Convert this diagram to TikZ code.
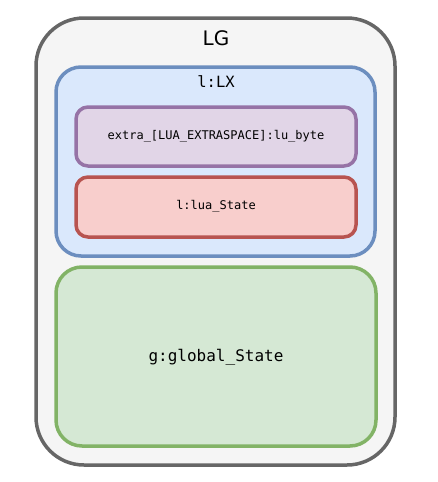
\documentclass[tikz,border=0pt]{standalone}
\usepackage{fontspec}
\setmainfont{DejaVu Sans}
\newfontfamily\monofont{DejaVu Sans Mono}
\definecolor{outerd}{HTML}{666666}
\definecolor{outerf}{HTML}{F5F5F5}
\definecolor{blued}{HTML}{6C8EBF}
\definecolor{bluef}{HTML}{DAE8FC}
\definecolor{purpd}{HTML}{9673A6}
\definecolor{purpf}{HTML}{E1D5E7}
\definecolor{redd}{HTML}{B85450}
\definecolor{redf}{HTML}{F8CECC}
\definecolor{greend}{HTML}{82B366}
\definecolor{greenf}{HTML}{D5E8D4}
\tikzset{
  box/.style={rectangle, line width=3.5pt, inner sep=0pt, outer sep=0pt},
  lbl/.style={inner sep=0pt, text=black}
}
\begin{document}
\begin{tikzpicture}[x=1pt,y=-1pt]
\useasboundingbox (0,0) rectangle (438,482);
\fill[white] (0,0) rectangle (438,482);
\node[box, draw=outerd, fill=outerf, minimum width=359pt, minimum height=447pt, rounded corners=48pt] (lg) at (215.5,241.5) {};
\node[lbl, font=\fontsize{20}{24}\selectfont] (lgt) at (216,38) {LG};
\node[box, draw=blued, fill=bluef, minimum width=319pt, minimum height=189pt, rounded corners=25pt] (lx) at (215.5,161.5) {};
\node[lbl, font=\monofont\fontsize{15.5}{18}\selectfont] (lxt) at (216,82) {l:LX};
\node[box, draw=purpd, fill=purpf, minimum width=280pt, minimum height=59pt, rounded corners=12pt] (ex) at (216,136.5) {};
\node[lbl, font=\monofont\fontsize{12}{14}\selectfont] (ext) at (216,136) {extra\_[LUA\_EXTRASPACE]:lu\_byte};
\node[box, draw=redd, fill=redf, minimum width=280pt, minimum height=60pt, rounded corners=12pt] (ls) at (216,207) {};
\node[lbl, font=\monofont\fontsize{12}{14}\selectfont] (lst) at (216,206) {l:lua\_State};
\node[box, draw=greend, fill=greenf, minimum width=320pt, minimum height=179pt, rounded corners=26pt] (gs) at (216,356.5) {};
\node[lbl, font=\monofont\fontsize{16}{19}\selectfont] (gst) at (216,357) {g:global\_State};
\end{tikzpicture}
\end{document}
